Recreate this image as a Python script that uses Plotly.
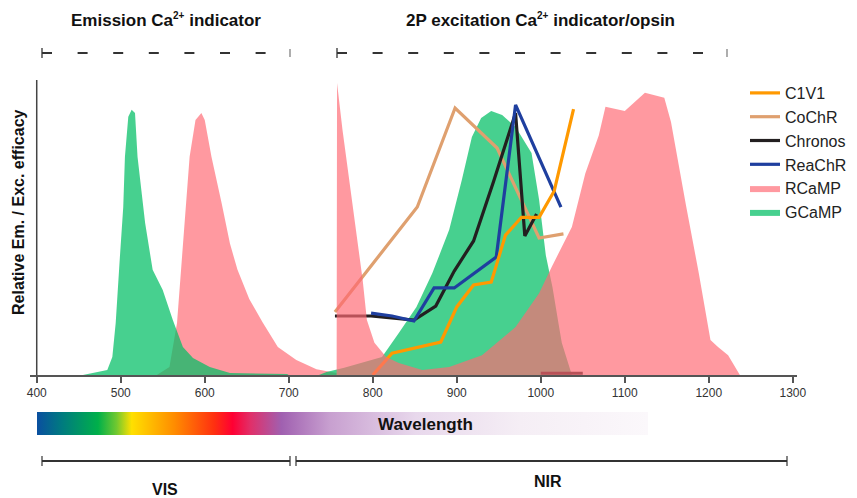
import plotly.graph_objects as go

# ---------------- data ----------------
# Emission spectra (wavelength nm, relative value 0-100)
gcamp_em_wl = [455, 484, 490, 494, 499, 503, 505, 509, 513, 517, 520, 529, 538, 550, 562, 574, 586, 606, 630, 698, 700]
gcamp_em_val = [0, 1.7, 6.2, 17.8, 40.4, 57.5, 74.7, 88.4, 90.8, 89.7, 74.7, 52.1, 36, 29.1, 18.8, 9.6, 5.8, 2.7, 0.7, 0.3, 0]

rcamp_em_wl = [543, 558, 567, 574, 582, 589, 596, 600, 608, 620, 630, 639, 653, 669, 687, 709, 733, 757]
rcamp_em_val = [0, 2.7, 17.8, 46, 74.7, 87.3, 89.7, 87.3, 74.7, 59, 45, 36, 26, 18, 9.6, 5.1, 2, 0.7]

# 2P excitation spectra
gcamp_2p_wl = [736, 745, 766, 784, 811, 831, 852, 871, 891, 906, 918, 929, 941, 954, 970, 989, 998, 1006, 1014, 1021, 1025, 1037]
gcamp_2p_val = [0, 1, 2.5, 4, 6.2, 14.4, 23.3, 34.9, 49.7, 66.8, 81.5, 88, 90.4, 89, 84.9, 76, 60, 41, 30, 17.8, 11, 0]

rcamp_2p_wl = [757, 757.5, 764, 772, 780, 788, 793, 802, 816, 831, 859, 891, 930, 970, 998, 1013, 1037, 1053, 1069,
               1077, 1100, 1124, 1147, 1155, 1173, 1188, 1202, 1211, 1223, 1237]
rcamp_2p_val = [0, 100, 83.9, 66.8, 49.7, 32.5, 18.8, 11, 6.2, 4.1, 1.7, 2.7, 6.8, 16.4, 28, 37, 50.7, 69, 82,
                91.8, 90.4, 96.6, 94.9, 86.6, 57.9, 35, 12, 9.6, 6.8, 0]

# Opsin 2P action spectra
c1v1_wl = [800, 823, 881, 900, 920, 941, 958, 977, 998, 1016, 1039]
c1v1_val = [0, 7.5, 11.3, 23.3, 30.8, 31.8, 47.9, 54, 54, 63, 91]

cochr_wl = [755, 853, 898, 948, 998, 1027]
cochr_val = [21.6, 57.5, 91.4, 77.7, 46.9, 48.3]

chronos_wl = [755, 798, 849, 875, 897, 920, 944, 970, 981, 995]
chronos_val = [20.2, 20.2, 18.8, 23.6, 35.6, 45.9, 66.4, 89.7, 47.6, 55.1]
chronos_extra_wl = [1000, 1050]
chronos_extra_val = [0.6, 0.6]

reachr_wl = [798, 823, 849, 873, 897, 947, 970, 1024]
reachr_val = [21.2, 20.2, 18.5, 29.8, 29.8, 40.4, 92.5, 57.5]

tick_vals = [400, 500, 600, 700, 800, 900, 1000, 1100, 1200, 1300]
tick_text = [str(v) for v in tick_vals]

# wavelength bar gradient stops
grad_pos = [0.0, 0.04, 0.10, 0.13, 0.155, 0.225, 0.29, 0.32, 0.35, 0.40, 0.48, 0.62, 0.79, 1.0]
grad_col = ["#0a4fa0", "#007a80", "#00b04a", "#70c830", "#ffe000", "#ff8c00", "#ff3010", "#ff0033",
            "#e0306a", "#a060b0", "#c8a0d0", "#e8d8ec", "#f5eef5", "#fbf8fb"]

# ---------------- styles ----------------
PINK = "rgba(255,105,115,0.68)"
GREEN = "rgba(0,190,100,0.72)"
C_C1V1 = "#ff9900"
C_COCHR = "#dfa06f"
C_CHRONOS = "#231f20"
C_REACHR = "#1f3f9f"
NARROW = "Liberation Sans Narrow, Arial Narrow, Liberation Sans, Arial, sans-serif"
SANS = "Liberation Sans, Arial, sans-serif"

fig = go.Figure()

def fill_trace(x, y, color, name, show, rank):
    return go.Scatter(x=x, y=y, mode="lines", fill="tozeroy", fillcolor=color,
                      line=dict(width=0, color=color), name=name, legendgroup=name,
                      showlegend=show, legendrank=rank, hoverinfo="skip")

def line_trace(x, y, color, name, show, rank):
    return go.Scatter(x=x, y=y, mode="lines", line=dict(color=color, width=3.2),
                      name=name, legendgroup=name, showlegend=show, legendrank=rank)

fig.add_trace(fill_trace(rcamp_em_wl, rcamp_em_val, PINK, "RCaMP", True, 5))
fig.add_trace(fill_trace(gcamp_em_wl, gcamp_em_val, GREEN, "GCaMP", True, 6))
fig.add_trace(fill_trace(gcamp_2p_wl, gcamp_2p_val, GREEN, "GCaMP", False, 6))
fig.add_trace(line_trace(cochr_wl, cochr_val, C_COCHR, "CoChR", True, 2))
fig.add_trace(line_trace(chronos_wl, chronos_val, C_CHRONOS, "Chronos", True, 3))
fig.add_trace(line_trace(chronos_extra_wl, chronos_extra_val, C_CHRONOS, "Chronos", False, 3))
fig.add_trace(line_trace(reachr_wl, reachr_val, C_REACHR, "ReaChR", True, 4))
fig.add_trace(line_trace(c1v1_wl, c1v1_val, C_C1V1, "C1V1", True, 1))
fig.add_trace(fill_trace(rcamp_2p_wl, rcamp_2p_val, PINK, "RCaMP", False, 5))

# wavelength gradient bar
fig.add_trace(go.Scatter(x=[0, 1, 1, 0, 0], y=[0, 0, 1, 1, 0], mode="lines", fill="toself",
                         line=dict(width=0), xaxis="x2", yaxis="y2", showlegend=False, hoverinfo="skip",
                         fillgradient=dict(type="horizontal",
                                           colorscale=[[p, c] for p, c in zip(grad_pos, grad_col)])))

W, H = 857, 498
OFF = 8  # page body margin
ML, MR, MT, MB = 22, 68, 2, 18
PW, PH = W - ML - MR, H - MT - MB

def px(x):
    return (x - OFF - ML) / PW

def py(y):
    return (H - MB - (y - OFF)) / PH

fig.update_layout(
    width=W, height=H,
    margin=dict(l=ML, r=MR, t=MT, b=MB),
    paper_bgcolor="white", plot_bgcolor="white",
    xaxis=dict(range=[392, 1305], domain=[0, 1], anchor="y", showgrid=False, zeroline=False,
               showline=True, linecolor="#555", linewidth=2, ticks="outside", ticklen=6,
               tickcolor="#555", tickwidth=1.5, tickvals=tick_vals, ticktext=tick_text,
               tickfont=dict(family=NARROW, size=12, color="#333")),
    yaxis=dict(range=[0, 101], domain=[py(375), py(80)], showgrid=False, zeroline=False,
               showline=False, showticklabels=False, ticks=""),
    xaxis2=dict(range=[0, 1], domain=[px(37), px(648)], anchor="y2", visible=False),
    yaxis2=dict(range=[0, 1], domain=[py(435), py(412)], anchor="x2", visible=False),
    legend=dict(x=px(745), y=py(76), xanchor="left", yanchor="top", traceorder="normal",
                font=dict(family=SANS, size=16, color="#222"), tracegroupgap=0,
                bgcolor="rgba(0,0,0,0)"),
    showlegend=True,
)

# y axis line at 400 nm
fig.add_shape(type="line", xref="x", yref="y", x0=400, x1=400, y0=0, y1=101,
              line=dict(color="#444", width=1.5))

line_col = "#333"
# top dashed brackets
for x0, x1 in [(42, 290), (337, 727)]:
    fig.add_shape(type="line", xref="paper", yref="paper", x0=px(x0), x1=px(x1), y0=py(53), y1=py(53),
                  line=dict(color="#333", width=2, dash="10px,25.6px"))
    fig.add_shape(type="line", xref="paper", yref="paper", x0=px(x0), x1=px(x0), y0=py(48), y1=py(58),
                  line=dict(color="#333", width=1.3))
    fig.add_shape(type="line", xref="paper", yref="paper", x0=px(x1), x1=px(x1), y0=py(49), y1=py(57),
                  line=dict(color="#777", width=1.2))

# bottom solid brackets
for x0, x1 in [(42, 290), (296, 787)]:
    fig.add_shape(type="line", xref="paper", yref="paper", x0=px(x0), x1=px(x1), y0=py(461), y1=py(461),
                  line=dict(color=line_col, width=1.8))
    for xx in (x0, x1):
        fig.add_shape(type="line", xref="paper", yref="paper", x0=px(xx), x1=px(xx), y0=py(456), y1=py(466),
                      line=dict(color=line_col, width=1.2))

def ann(text, x, y, size, bold=True, family=NARROW, angle=0):
    fig.add_annotation(text=f"<b>{text}</b>" if bold else text, xref="paper", yref="paper",
                       x=px(x), y=py(y), showarrow=False, textangle=angle,
                       font=dict(family=family, size=size, color="#111"),
                       xanchor="center", yanchor="middle")

SUP = "<sup><span style='font-size:10px'>2+</span></sup>"
ann(f"Emission Ca{SUP} indicator", 166, 20, 17)
ann(f"2P excitation Ca{SUP} indicator/opsin", 540, 20, 17)
ann("Wavelength", 425, 424, 17)
ann("VIS", 165, 489, 16)
ann("NIR", 548, 481, 16)
ann("Relative Em. / Exc. efficacy", 18, 212, 16, family=SANS, angle=-90)

fig.write_html("out.html")
